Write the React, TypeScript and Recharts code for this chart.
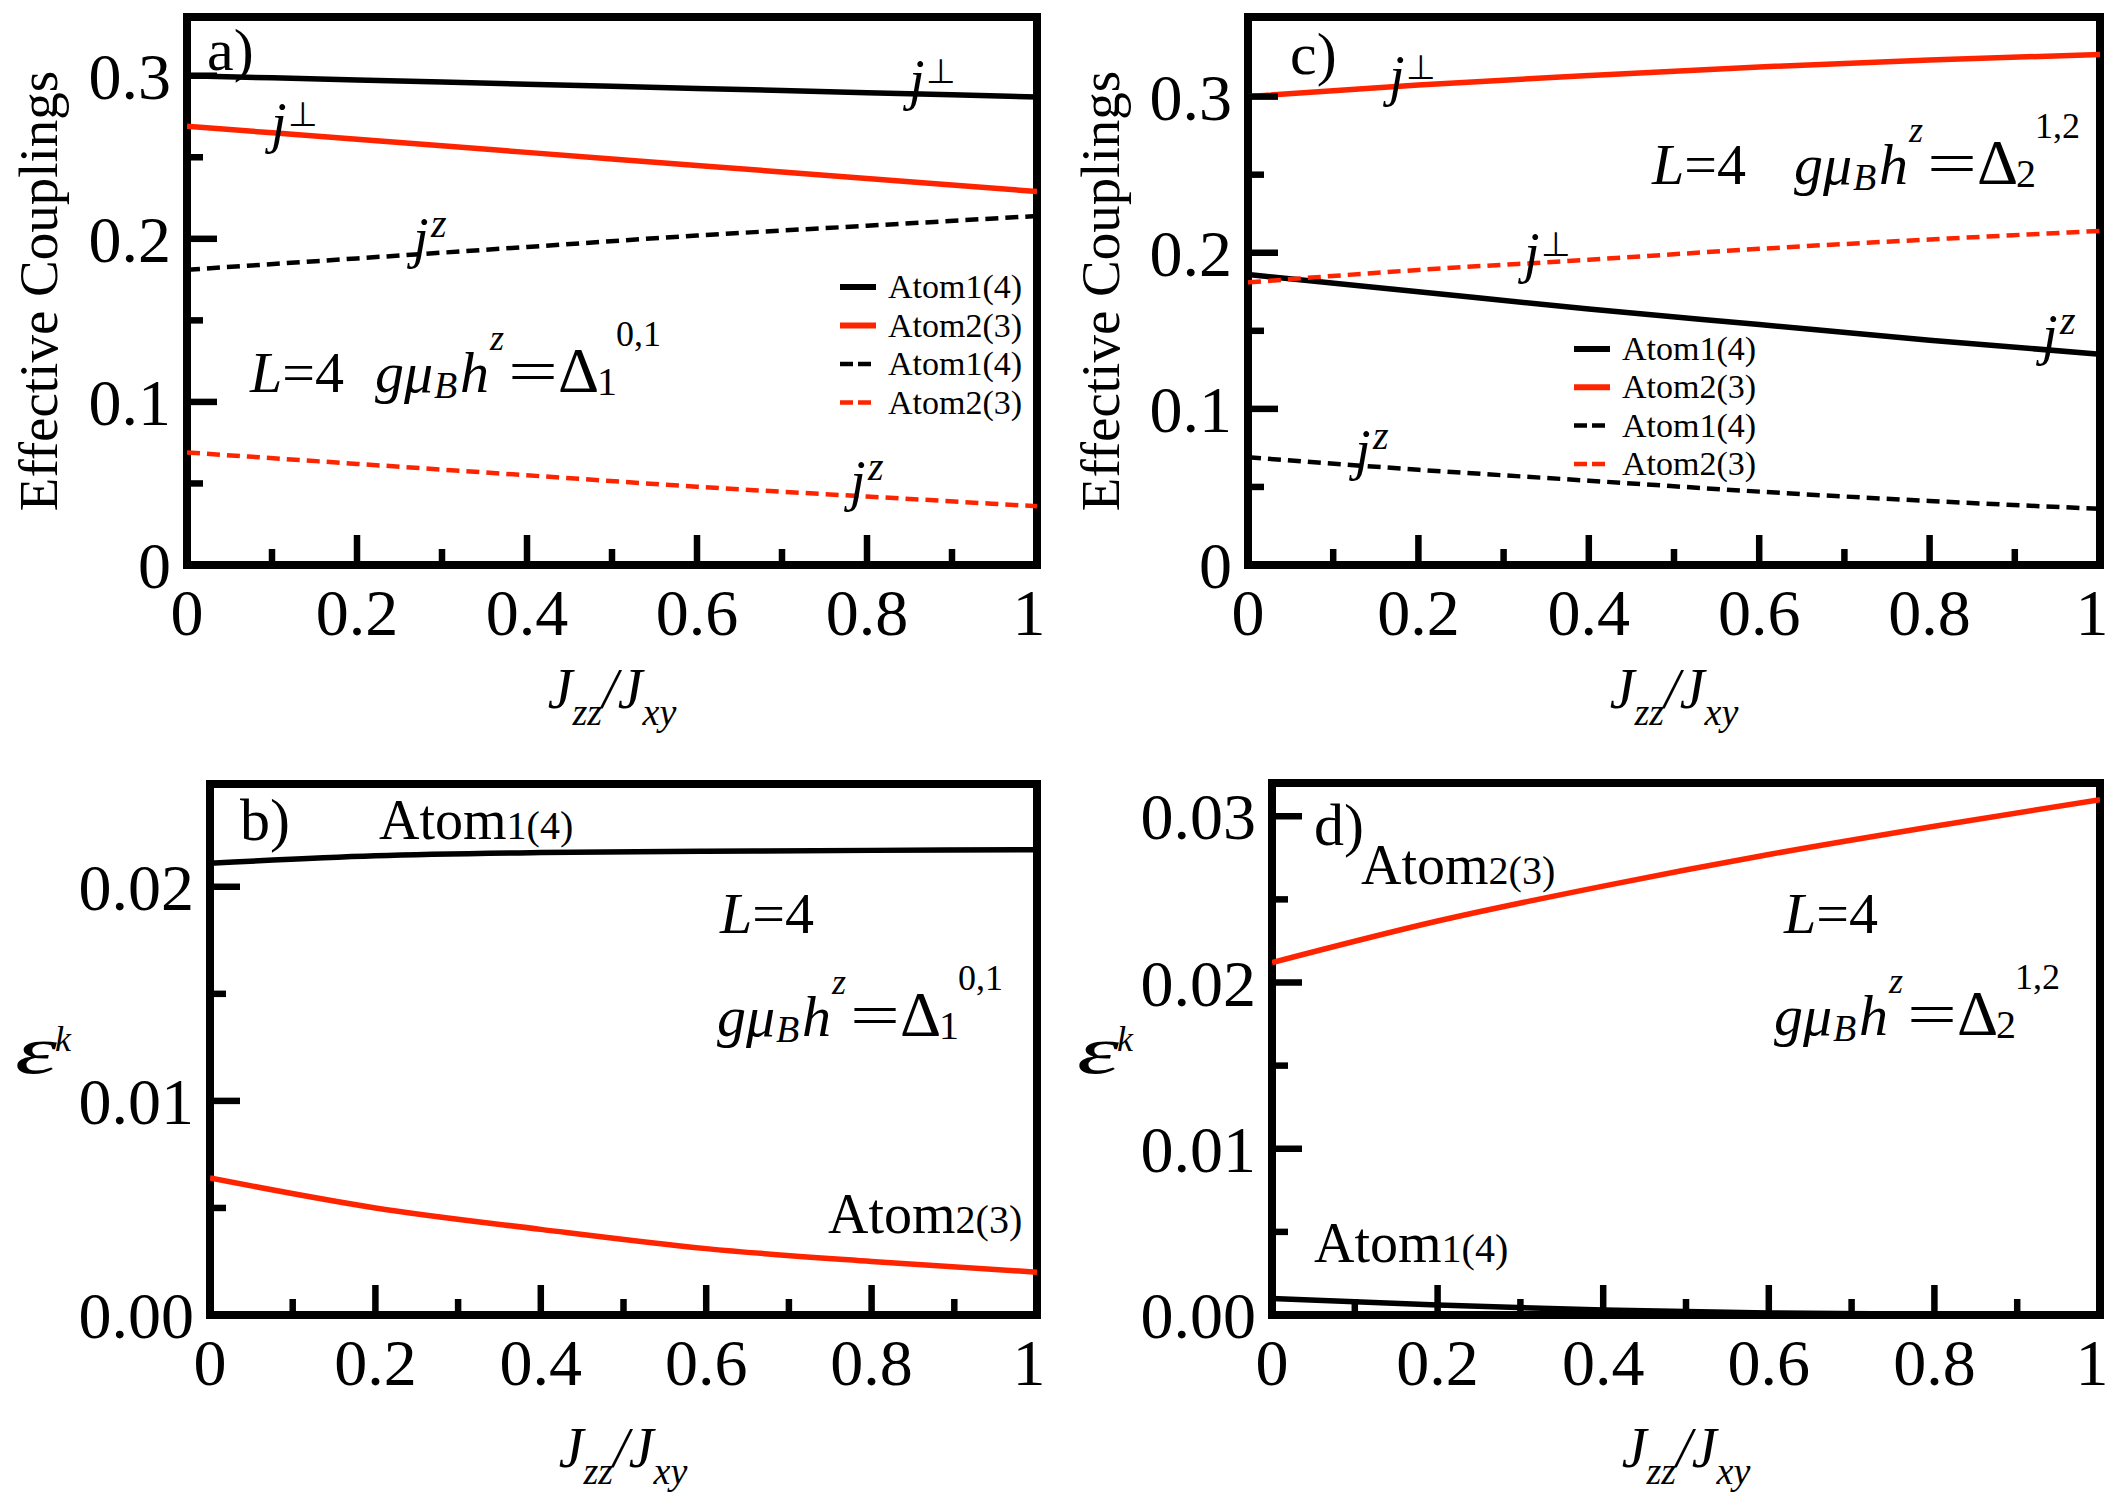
import { LineChart, Line, XAxis, YAxis, ReferenceArea } from "recharts";

const SERIF = '"Liberation Serif", "Times New Roman", Times, serif';
const RED = "#ff2400";
const BLACK = "#000";

// J_zz / J_xy sample points
const JZZ = [0, 0.2, 0.4, 0.6, 0.8, 1];

// a) g mu_B h^z = Delta_1^{0,1}
const A_ATOM1_JPERP = [0.3, 0.2974, 0.2948, 0.2922, 0.2896, 0.287];
const A_ATOM2_JPERP = [0.269, 0.261, 0.253, 0.245, 0.237, 0.229];
const A_ATOM1_JZ = [0.181, 0.188, 0.195, 0.202, 0.208, 0.214];
const A_ATOM2_JZ = [0.069, 0.062, 0.055, 0.048, 0.042, 0.036];

// c) g mu_B h^z = Delta_2^{1,2}
const C_ATOM1_SOLID = [0.186, 0.175, 0.164, 0.154, 0.144, 0.135];
const C_ATOM2_SOLID = [0.3, 0.3075, 0.3135, 0.319, 0.3235, 0.327];
const C_ATOM1_DASH = [0.069, 0.061, 0.054, 0.047, 0.041, 0.036];
const C_ATOM2_DASH = [0.181, 0.189, 0.1955, 0.2025, 0.2085, 0.214];

// b) eps^k, Delta_1^{0,1}
const B_ATOM1 = [0.0211, 0.02145, 0.0216, 0.02166, 0.0217, 0.02173];
const B_ATOM2 = [0.0064, 0.005, 0.004, 0.0031, 0.0025, 0.002];

// d) eps^k, Delta_2^{1,2}
const D_ATOM1 = [0.001, 0.0006, 0.0003, 0.00012, 0.00004, 0.00001];
const D_ATOM2 = [0.0212, 0.0237, 0.0258, 0.0277, 0.0294, 0.031];

const X_TICKS = [0, 0.1, 0.2, 0.3, 0.4, 0.5, 0.6, 0.7, 0.8, 0.9, 1];
const Y_TICKS_TOP = [0, 0.05, 0.1, 0.15, 0.2, 0.25, 0.3];
const Y_TICKS_B = [0, 0.005, 0.01, 0.015, 0.02];
const Y_TICKS_D = [0, 0.005, 0.01, 0.015, 0.02, 0.025, 0.03];

const LEGEND_NAMES = ["Atom1(4)", "Atom2(3)", "Atom1(4)", "Atom2(3)"];

type Series = { key: string; values: number[]; color: string; dashed?: boolean };

const isMajor = (v: number, step: number) => Math.abs(v / step - Math.round(v / step)) < 1e-6;

function XTick(props: any) {
  const { x, y, payload } = props;
  const v = payload.value as number;
  const major = isMajor(v, 0.2);
  const label = v === 0 ? "0" : v === 1 ? "1" : v.toFixed(1);
  // the last label sits on the page edge, nudge it in a bit
  const tx = v === 1 ? x - 8 : x;
  return (
    <g>
      <line x1={x} x2={x} y1={y} y2={y - (major ? 30 : 16)} stroke={BLACK} strokeWidth={6.5} />
      {major && (
        <text x={tx} y={y + 70} textAnchor="middle" fontSize={66} fontFamily={SERIF} fill={BLACK}>
          {label}
        </text>
      )}
    </g>
  );
}

function YTick(props: any) {
  const { x, y, payload, step, digits } = props;
  const v = payload.value as number;
  const major = isMajor(v, step);
  const label = v === 0 ? (digits === 1 ? "0" : "0.00") : v.toFixed(digits);
  return (
    <g>
      <line x1={x} x2={x + (major ? 30 : 16)} y1={y} y2={y} stroke={BLACK} strokeWidth={6.5} />
      {major && (
        <text x={x - 16} y={y + 23} textAnchor="end" fontSize={66} fontFamily={SERIF} fill={BLACK}>
          {label}
        </text>
      )}
    </g>
  );
}

function Panel({
  left,
  top,
  width,
  height,
  margin,
  yMax,
  yTicks,
  yStep,
  digits,
  series,
}: {
  left: number;
  top: number;
  width: number;
  height: number;
  margin: { top: number; right: number; bottom: number; left: number };
  yMax: number;
  yTicks: number[];
  yStep: number;
  digits: number;
  series: Series[];
}) {
  const data = JZZ.map((x, i) => {
    const row: Record<string, number> = { x };
    series.forEach((s) => (row[s.key] = s.values[i]));
    return row;
  });
  return (
    <div style={{ position: "absolute", left, top }}>
      <LineChart width={width} height={height} data={data} margin={margin}>
        <XAxis
          dataKey="x"
          type="number"
          domain={[0, 1]}
          ticks={X_TICKS}
          interval={0}
          tickSize={0}
          tickMargin={0}
          tickLine={false}
          axisLine={false}
          height={60}
          allowDataOverflow
          tick={(p: any) => <XTick {...p} />}
        />
        <YAxis
          type="number"
          domain={[0, yMax]}
          ticks={yTicks}
          interval={0}
          tickSize={0}
          tickMargin={0}
          tickLine={false}
          axisLine={false}
          width={100}
          allowDataOverflow
          tick={(p: any) => <YTick {...p} step={yStep} digits={digits} />}
        />
        {series.map((s) => (
          <Line
            key={s.key}
            dataKey={s.key}
            type="monotone"
            stroke={s.color}
            strokeWidth={s.dashed ? 4.5 : 5.5}
            strokeDasharray={s.dashed ? "13 7" : undefined}
            dot={false}
            activeDot={false}
            isAnimationActive={false}
          />
        ))}
        <ReferenceArea
          x1={0}
          x2={1}
          y1={0}
          y2={yMax}
          fill="none"
          stroke={BLACK}
          strokeWidth={8}
          ifOverflow="visible"
        />
      </LineChart>
    </div>
  );
}

function Legend({ x, y, gap, textX }: { x: number; y: number; gap: number; textX: number }) {
  const styles = [
    { color: BLACK, dashed: false },
    { color: RED, dashed: false },
    { color: BLACK, dashed: true },
    { color: RED, dashed: true },
  ];
  return (
    <g>
      {styles.map((s, i) => (
        <g key={i}>
          <line
            x1={x}
            x2={x + (s.dashed ? 31 : 36)}
            y1={y + i * gap}
            y2={y + i * gap}
            stroke={s.color}
            strokeWidth={s.dashed ? 4.5 : 6}
            strokeDasharray={s.dashed ? "13 5" : undefined}
          />
          <text x={textX} y={y + i * gap + 11} fontSize={34} fontFamily={SERIF} fill={BLACK}>
            {LEGEND_NAMES[i]}
          </text>
        </g>
      ))}
    </g>
  );
}

function J({ x, y, sup }: { x: number; y: number; sup: "perp" | "z" }) {
  return (
    <g fontFamily={SERIF} fill={BLACK}>
      <text x={x + 4} y={y} fontSize={56} fontStyle="italic">
        j
      </text>
      {sup === "perp" ? (
        <text x={x + 21} y={y - 16} fontSize={34}>
          ⊥
        </text>
      ) : (
        <text x={x + 22} y={y - 20} fontSize={40} fontStyle="italic">
          z
        </text>
      )}
    </g>
  );
}

function LEq({ x, y }: { x: number; y: number }) {
  return (
    <text x={x} y={y} fontSize={58} fontFamily={SERIF} fill={BLACK}>
      <tspan fontStyle="italic">L</tspan>=4
    </text>
  );
}

function Field({ x, y, n, sup }: { x: number; y: number; n: string; sup: string }) {
  return (
    <g fontFamily={SERIF} fill={BLACK}>
      <text x={x} y={y} fontSize={58} fontStyle="italic">
        gμ
      </text>
      <text x={x + 59} y={y + 6} fontSize={38} fontStyle="italic">
        B
      </text>
      <text x={x + 85} y={y} fontSize={58} fontStyle="italic">
        h
      </text>
      <text x={x + 115} y={y - 42} fontSize={36} fontStyle="italic">
        z
      </text>
      <text x={x + 133} y={y} fontSize={62} textLength={50} lengthAdjust="spacingAndGlyphs">
        =
      </text>
      <text x={x + 183} y={y} fontSize={64}>
        Δ
      </text>
      <text x={x + 222} y={y + 3} fontSize={40}>
        {n}
      </text>
      <text x={x + 241} y={y - 46} fontSize={36}>
        {sup}
      </text>
    </g>
  );
}

function AtomLabel({ x, y, main, tail }: { x: number; y: number; main: string; tail: string }) {
  return (
    <text x={x} y={y} fontSize={56} fontFamily={SERIF} fill={BLACK}>
      {main}
      <tspan fontSize={40}>{tail}</tspan>
    </text>
  );
}

function XTitle({ cx, y }: { cx: number; y: number }) {
  return (
    <text x={cx} y={y} textAnchor="middle" fontFamily={SERIF} fontStyle="italic" fontSize={56} fill={BLACK}>
      J
      <tspan fontSize={38} dy={17}>
        zz
      </tspan>
      <tspan dy={-17}>/J</tspan>
      <tspan fontSize={38} dy={17}>
        xy
      </tspan>
    </text>
  );
}

function YTitle({ x, cy }: { x: number; cy: number }) {
  return (
    <text
      x={x}
      y={cy}
      transform={`rotate(-90 ${x} ${cy})`}
      textAnchor="middle"
      fontFamily={SERIF}
      fontSize={55}
      fill={BLACK}
    >
      Effective Couplings
    </text>
  );
}

function Eps({ x, y }: { x: number; y: number }) {
  return (
    <g fontFamily={SERIF} fill={BLACK} fontStyle="italic">
      <text x={x} y={y} fontSize={68} textLength={42} lengthAdjust="spacingAndGlyphs">
        ε
      </text>
      <text x={x + 40} y={y - 22} fontSize={36}>
        k
      </text>
    </g>
  );
}

export default function App() {
  return (
    <div style={{ position: "absolute", left: 0, top: 0, width: 2111, height: 1495, background: "#fff" }}>
      <Panel
        left={0}
        top={0}
        width={1060}
        height={760}
        margin={{ top: 17, right: 23, bottom: 135, left: 87 }}
        yMax={0.336}
        yTicks={Y_TICKS_TOP}
        yStep={0.1}
        digits={1}
        series={[
          { key: "a1p", values: A_ATOM1_JPERP, color: BLACK },
          { key: "a2p", values: A_ATOM2_JPERP, color: RED },
          { key: "a1z", values: A_ATOM1_JZ, color: BLACK, dashed: true },
          { key: "a2z", values: A_ATOM2_JZ, color: RED, dashed: true },
        ]}
      />
      <Panel
        left={1060}
        top={0}
        width={1051}
        height={760}
        margin={{ top: 17, right: 11, bottom: 135, left: 88 }}
        yMax={0.351}
        yTicks={Y_TICKS_TOP}
        yStep={0.1}
        digits={1}
        series={[
          { key: "c1s", values: C_ATOM1_SOLID, color: BLACK },
          { key: "c2s", values: C_ATOM2_SOLID, color: RED },
          { key: "c1d", values: C_ATOM1_DASH, color: BLACK, dashed: true },
          { key: "c2d", values: C_ATOM2_DASH, color: RED, dashed: true },
        ]}
      />
      <Panel
        left={0}
        top={760}
        width={1060}
        height={735}
        margin={{ top: 24, right: 23, bottom: 120, left: 110 }}
        yMax={0.0248}
        yTicks={Y_TICKS_B}
        yStep={0.01}
        digits={2}
        series={[
          { key: "b1", values: B_ATOM1, color: BLACK },
          { key: "b2", values: B_ATOM2, color: RED },
        ]}
      />
      <Panel
        left={1060}
        top={760}
        width={1051}
        height={735}
        margin={{ top: 23, right: 11, bottom: 120, left: 112 }}
        yMax={0.032}
        yTicks={Y_TICKS_D}
        yStep={0.01}
        digits={2}
        series={[
          { key: "d1", values: D_ATOM1, color: BLACK },
          { key: "d2", values: D_ATOM2, color: RED },
        ]}
      />

      <svg
        width={2111}
        height={1495}
        style={{ position: "absolute", left: 0, top: 0, pointerEvents: "none" }}
      >
        {/* panel a */}
        <text x={207} y={70} fontSize={60} fontFamily={SERIF}>a)</text>
        <J x={905} y={99} sup="perp" />
        <J x={267} y={142} sup="perp" />
        <J x={409} y={257} sup="z" />
        <J x={846} y={500} sup="z" />
        <LEq x={250} y={392} />
        <Field x={375} y={392} n="1" sup="0,1" />
        <Legend x={840} y={287} gap={38.5} textX={888} />
        <YTitle x={57} cy={291} />
        <XTitle cx={612} y={708} />

        {/* panel c */}
        <text x={1290} y={74} fontSize={60} fontFamily={SERIF}>c)</text>
        <J x={1385} y={95} sup="perp" />
        <J x={1520} y={272} sup="perp" />
        <J x={2038} y={354} sup="z" />
        <J x={1351} y={469} sup="z" />
        <LEq x={1652} y={184} />
        <Field x={1794} y={184} n="2" sup="1,2" />
        <Legend x={1574} y={349} gap={38.3} textX={1622} />
        <YTitle x={1119} cy={291} />
        <XTitle cx={1674} y={708} />

        {/* panel b */}
        <text x={240} y={840} fontSize={60} fontFamily={SERIF}>b)</text>
        <AtomLabel x={379} y={839} main="Atom" tail="1(4)" />
        <AtomLabel x={828} y={1233} main="Atom" tail="2(3)" />
        <LEq x={720} y={933} />
        <Field x={717} y={1036} n="1" sup="0,1" />
        <Eps x={15} y={1073} />
        <XTitle cx={623} y={1467} />

        {/* panel d */}
        <text x={1314} y={845} fontSize={60} fontFamily={SERIF}>d)</text>
        <AtomLabel x={1361} y={884} main="Atom" tail="2(3)" />
        <AtomLabel x={1314} y={1262} main="Atom" tail="1(4)" />
        <LEq x={1784} y={933} />
        <Field x={1774} y={1035} n="2" sup="1,2" />
        <Eps x={1077} y={1073} />
        <XTitle cx={1686} y={1467} />
      </svg>
    </div>
  );
}
